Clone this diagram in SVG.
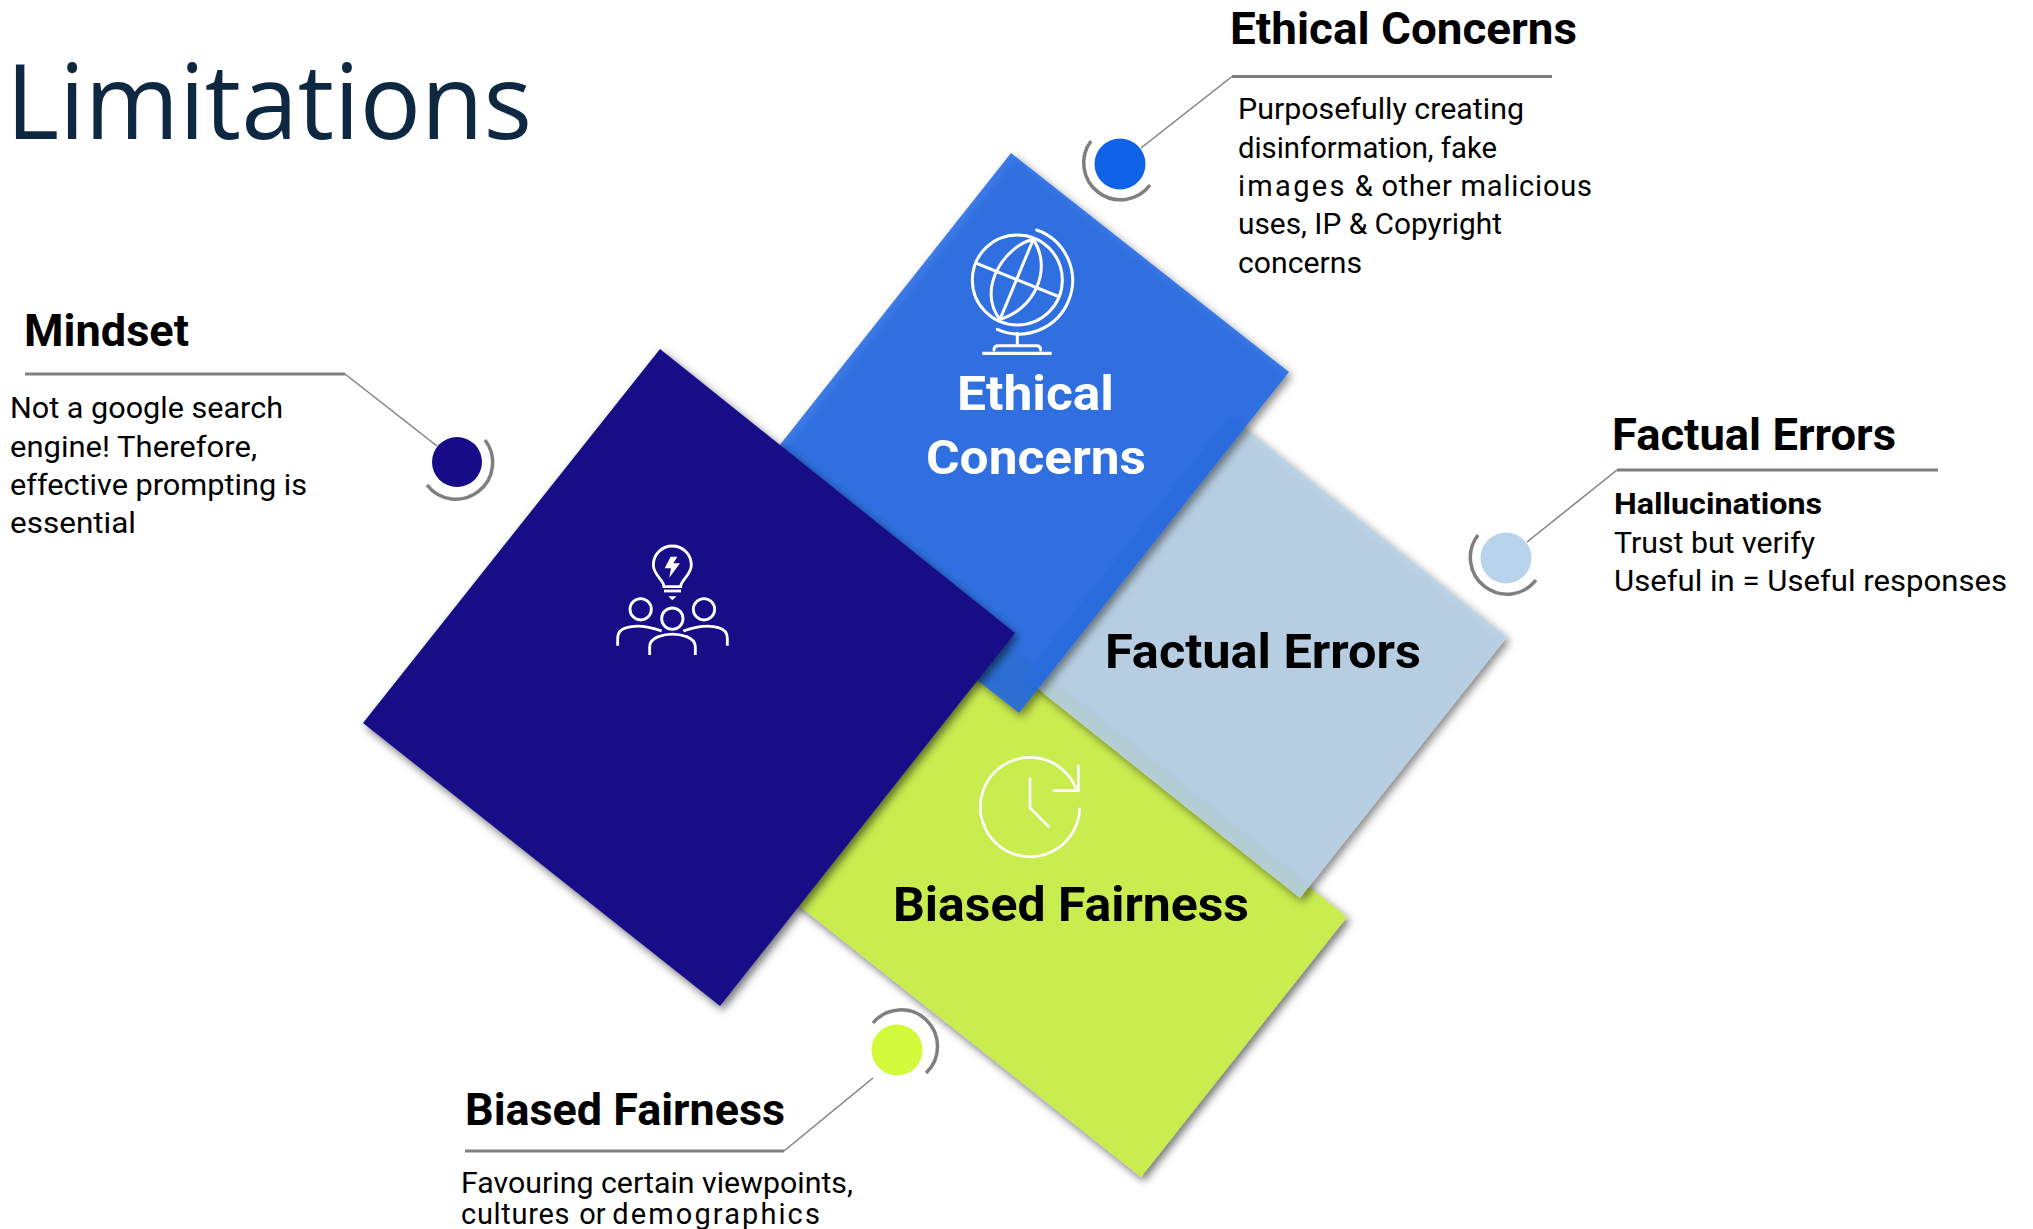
<svg xmlns="http://www.w3.org/2000/svg" width="2033" height="1229" viewBox="0 0 2033 1229">
<style>
text{font-family:"Roboto","Liberation Sans",sans-serif;fill:#000}
.title{font-family:"Open Sans","Noto Sans",sans-serif;font-size:104px;fill:#0e2841}
.h{font-size:44px;font-weight:700}
.big{font-size:48px;font-weight:700}
.b{font-size:29px}
.bb{font-size:29px;font-weight:700}
.w{fill:#fff}
.rule{stroke:#7f7f7f;stroke-width:3;fill:none}
.diag{stroke:#7f7f7f;stroke-width:1.5;fill:none}
.arc{stroke:#7f7f7f;stroke-width:3.5;fill:none}
.ic{stroke:#fff;fill:none}
</style>
<defs>
<filter id="sh" x="-10%" y="-10%" width="120%" height="120%"><feDropShadow dx="3" dy="4" stdDeviation="4" flood-color="#000" flood-opacity=".55"/></filter>
</defs>
<rect width="2033" height="1229" fill="#fff"/>
<text class="title" x="6" y="139" textLength="526" lengthAdjust="spacingAndGlyphs">Limitations</text>

<g id="square-biased" filter="url(#sh)"><polygon points="960,609 1347,917 1141,1177 754,870" fill="#c9ec4f"/></g>
<g id="square-factual" filter="url(#sh)"><polygon points="1230,416 1507,637 1300,898 1023,677" fill="#b7d1e8" fill-opacity=".85"/></g>
<g id="square-ethical" filter="url(#sh)"><polygon points="1011,153 1289,372 1019,713 741,494" fill="#1e66e4" fill-opacity=".85"/></g>
<g id="square-mindset" filter="url(#sh)"><polygon points="660,349 1015,633 720,1006 363,723" fill="#170b87"/></g>

<g id="label-ethical">
<g class="ic" transform="translate(920,200) scale(.3333)" stroke-width="9" stroke-linecap="round">
<circle cx="292" cy="240" r="135"/>
<path d="M350,90A160.400,160.400 0 1 1 232,388"/>
<path d="M340,118C250,140 170,270 240,358C340,330 400,210 340,118Z"/>
<path d="M340,118L240,358M170,190L412,288M292,400V437M222,450Q222,437 235,437H350Q362,437 362,450"/>
<path d="M187,460H395" stroke-linecap="butt" stroke-width="10"/>
</g>
<text class="big w" x="957" y="410" textLength="157" lengthAdjust="spacingAndGlyphs">Ethical</text>
<text class="big w" x="926" y="474" textLength="220" lengthAdjust="spacingAndGlyphs">Concerns</text>
</g>
<g id="label-factual"><text class="big" x="1105" y="668" textLength="316" lengthAdjust="spacingAndGlyphs">Factual Errors</text></g>
<g id="label-biased">
<g class="ic" transform="translate(950,740) scale(.3333)" stroke-width="8">
<path d="M389,203A149,149 0 1 1 378,145"/>
<path d="M385,75V152H308M240,113V203L298,262"/>
</g>
<text class="big" x="893" y="921" textLength="356" lengthAdjust="spacingAndGlyphs">Biased Fairness</text>
</g>
<g id="icon-mindset">
<g class="ic" transform="translate(590,530) scale(.3333)" stroke-width="8.500">
<path d="M222,170C222,150 190,135 190,105A57,57 0 1 1 304,105C304,135 272,150 272,170Z"/>
<path d="M222,183H273"/>
<polygon points="235,199 260,199 247,211" fill="#fff" stroke="none"/>
<polygon points="242,80 224,115 243,115 238,143 270,100 250,100 262,80" fill="#fff" stroke="none"/>
<circle cx="152" cy="238" r="32"/><circle cx="342" cy="238" r="32"/><circle cx="247" cy="266" r="32"/>
<path d="M83,347V325Q83,300 110,293Q150,280 215,303M412,347V325Q412,300 385,293Q345,280 280,303M179,375V350Q179,330 205,320Q247,305 290,320Q316,330 316,350V375"/>
</g>
</g>

<g id="connectors">
<path class="rule" d="M25,374H345"/><path class="diag" d="M345,374L437,446"/>
<path class="rule" d="M1232,76.500H1552"/><path class="diag" d="M1232,76.500L1141,148"/>
<path class="rule" d="M1617,470H1938"/><path class="diag" d="M1617,470L1527,542"/>
<path class="rule" d="M465,1151H784"/><path class="diag" d="M784,1151L873,1078"/>
</g>

<g id="dot-mindset"><path class="arc" d="M485,440A36,36 0 0 1 427,485"/><circle cx="457" cy="462" r="25" fill="#170b87"/></g>
<g id="dot-ethical"><path class="arc" d="M1091,141A36.500,36.500 0 0 0 1150,185"/><circle cx="1120" cy="164" r="25.500" fill="#0f62e8"/></g>
<g id="dot-factual"><path class="arc" d="M1478,535A36.500,36.500 0 0 0 1536,580"/><circle cx="1506" cy="558" r="25.500" fill="#b8d4ec"/></g>
<g id="dot-biased"><path class="arc" d="M873,1023A36.500,36.500 0 1 1 926,1073"/><circle cx="897" cy="1050" r="25.500" fill="#d2f93a"/></g>

<g id="text-mindset">
<text class="h" x="24" y="346" textLength="165" lengthAdjust="spacingAndGlyphs">Mindset</text>
<text class="b" x="10" y="418" textLength="273" lengthAdjust="spacingAndGlyphs">Not a google search</text>
<text class="b" x="10" y="457" textLength="247" lengthAdjust="spacingAndGlyphs">engine! Therefore,</text>
<text class="b" x="10" y="495" textLength="297" lengthAdjust="spacingAndGlyphs">effective prompting is</text>
<text class="b" x="10" y="533" textLength="126" lengthAdjust="spacingAndGlyphs">essential</text>
</g>
<g id="text-ethical">
<text class="h" x="1230" y="44" textLength="347" lengthAdjust="spacingAndGlyphs">Ethical Concerns</text>
<text class="b" x="1238" y="119" textLength="286" lengthAdjust="spacingAndGlyphs">Purposefully creating</text>
<text class="b" x="1238" y="158" textLength="259" lengthAdjust="spacingAndGlyphs">disinformation, fake</text>
<text class="b" x="1238" y="196" textLength="354" lengthAdjust="spacing"><tspan letter-spacing="1.500">images</tspan> &amp; other malicious</text>
<text class="b" x="1238" y="234" textLength="264" lengthAdjust="spacingAndGlyphs">uses, IP &amp; Copyright</text>
<text class="b" x="1238" y="273" textLength="124" lengthAdjust="spacingAndGlyphs">concerns</text>
</g>
<g id="text-factual">
<text class="h" x="1612" y="450" textLength="284" lengthAdjust="spacingAndGlyphs">Factual Errors</text>
<text class="bb" x="1614" y="514" textLength="208" lengthAdjust="spacingAndGlyphs">Hallucinations</text>
<text class="b" x="1614" y="553" textLength="201" lengthAdjust="spacingAndGlyphs">Trust but verify</text>
<text class="b" x="1614" y="591" textLength="393" lengthAdjust="spacingAndGlyphs">Useful in = Useful responses</text>
</g>
<g id="text-biased">
<text class="h" x="465" y="1125" textLength="320" lengthAdjust="spacingAndGlyphs">Biased Fairness</text>
<text class="b" x="461" y="1193" textLength="392" lengthAdjust="spacingAndGlyphs">Favouring certain viewpoints,</text>
<text class="b" x="461" y="1224"><tspan letter-spacing=".700">cultures</tspan><tspan x="572"> or</tspan><tspan x="603" letter-spacing="2.100"> demographics</tspan></text>
</g>
</svg>
